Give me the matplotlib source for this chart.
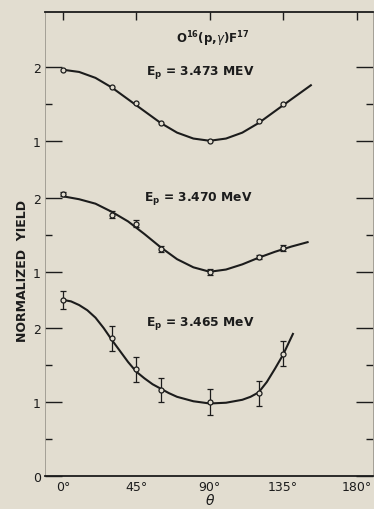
import matplotlib
matplotlib.use("Agg")
import matplotlib.pyplot as plt

# vertical offsets of the three stacked curves (in yield units)
offset_mid = 1.76
offset_top = 3.53

# measured points (angle in degrees, normalized yield)
ang_pts = [0, 30, 45, 60, 90, 120, 135]
top_pts = [1.96, 1.73, 1.51, 1.24, 1.00, 1.27, 1.50]
mid_pts = [2.05, 1.77, 1.65, 1.31, 1.00, 1.20, 1.32]
mid_err = [0.03, 0.05, 0.05, 0.04, 0.04, 0.03, 0.04]
bot_pts = [2.38, 1.86, 1.44, 1.16, 1.00, 1.12, 1.65]
bot_err = [0.12, 0.17, 0.17, 0.16, 0.17, 0.17, 0.17]

# fitted curves
top_ang = [0, 10, 20, 30, 40, 50, 60, 70, 80, 90, 100, 110, 120, 130, 140, 152]
top_fit = [1.96, 1.93, 1.85, 1.72, 1.56, 1.40, 1.24, 1.11, 1.03, 1.00, 1.03, 1.11,
           1.24, 1.40, 1.56, 1.75]
mid_ang = [0, 10, 20, 30, 40, 50, 60, 70, 80, 90, 100, 110, 120, 130, 140, 150]
mid_fit = [2.02, 1.98, 1.92, 1.81, 1.68, 1.51, 1.33, 1.17, 1.06, 1.00, 1.03, 1.10,
           1.19, 1.27, 1.34, 1.40]
bot_ang = [0, 5, 10, 15, 20, 25, 30, 35, 40, 45, 50, 55, 60, 65, 70, 80, 90, 100,
           110, 115, 120, 125, 130, 135, 141]
bot_fit = [2.38, 2.36, 2.31, 2.24, 2.14, 2.00, 1.84, 1.69, 1.54, 1.41, 1.32, 1.24,
           1.18, 1.12, 1.07, 1.01, 0.98, 0.99, 1.03, 1.07, 1.13, 1.27, 1.45, 1.64,
           1.92]

x_ticks = [0, 45, 90, 135, 180]
x_labels = ["0°", "45°", "90°", "135°", "180°"]

bg = "#e2ddd0"
ink = "#1c1c1c"

fig = plt.figure(figsize=(3.74, 5.10), dpi=100, facecolor=bg)
ax = fig.add_axes([0.120, 0.0647, 0.877, 0.9098], facecolor=bg)

curves = [
    (top_ang, top_fit, top_pts, None, offset_top),
    (mid_ang, mid_fit, mid_pts, mid_err, offset_mid),
    (bot_ang, bot_fit, bot_pts, bot_err, 0.0),
]
for a_fit, y_fit, y_pts, y_err, off in curves:
    ax.plot(a_fit, [v + off for v in y_fit], color=ink, lw=1.5, zorder=2)
    if y_err is not None:
        ax.errorbar(ang_pts, [v + off for v in y_pts], yerr=y_err, fmt="none",
                    ecolor=ink, elinewidth=0.9, capsize=2.5, capthick=0.9, zorder=3)
    ax.plot(ang_pts, [v + off for v in y_pts], "o", ms=3.6, mfc=bg, mec=ink,
            mew=0.9, zorder=4)

ax.set_xlim(-11, 190)
ax.set_ylim(0, 6.27)

ax.set_xticks(x_ticks)
ax.set_xticklabels(x_labels, fontsize=9, color=ink)
ax.tick_params(axis="x", bottom=False, top=True, direction="in", length=6,
               width=1, labelbottom=True, pad=3, colors=ink)

maj = [0, 1, 2, 1 + offset_mid, 2 + offset_mid, 1 + offset_top, 2 + offset_top]
ax.set_yticks(maj)
ax.set_yticklabels(["0", "1", "2", "1", "2", "1", "2"], fontsize=9, color=ink)
ax.set_yticks([0.5, 1.5, 1.5 + offset_mid, 1.5 + offset_top], minor=True)
ax.tick_params(axis="y", which="major", direction="in", length=12, width=1,
               left=True, right=True, pad=3, colors=ink)
ax.tick_params(axis="y", which="minor", direction="in", length=5, width=1,
               left=True, right=True, colors=ink)

for side in ["top", "bottom"]:
    ax.spines[side].set_linewidth(1.3)
    ax.spines[side].set_color(ink)
ax.spines["left"].set_linewidth(0.6)
ax.spines["left"].set_color("#9a968c")
ax.spines["right"].set_linewidth(0.6)
ax.spines["right"].set_color("#9a968c")

ax.text(92, 5.92, r"O$^{\mathregular{16}}$(p,$\gamma$)F$^{\mathregular{17}}$",
        ha="center", va="center", fontsize=8.5, fontweight="bold", color=ink)
ax.text(84, 5.46, r"E$_{\mathregular{p}}$ = 3.473 MEV", ha="center", va="center",
        fontsize=8.8, fontweight="bold", color=ink)
ax.text(83, 3.77, r"E$_{\mathregular{p}}$ = 3.470 MeV", ha="center", va="center",
        fontsize=8.8, fontweight="bold", color=ink)
ax.text(84, 2.08, r"E$_{\mathregular{p}}$ = 3.465 MeV", ha="center", va="center",
        fontsize=8.8, fontweight="bold", color=ink)

fig.text(0.059, 0.469, "NORMALIZED  YIELD", rotation=90, ha="center", va="center",
         fontsize=9, fontweight="bold", color=ink)
fig.text(0.561, 0.018, r"$\theta$", ha="center", va="center", fontsize=10, color=ink)

fig.savefig("out.png", dpi=100, facecolor=bg)
